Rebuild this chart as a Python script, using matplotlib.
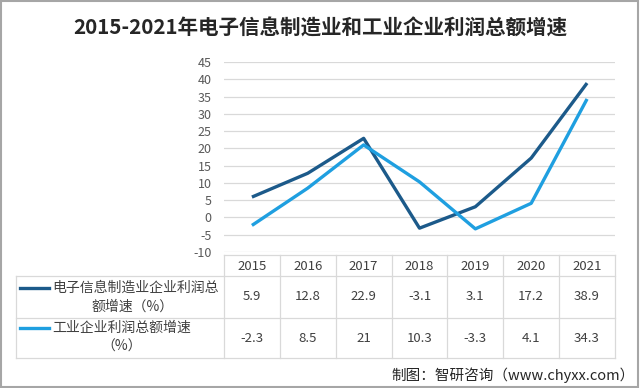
import matplotlib.pyplot as plt
from matplotlib.lines import Line2D
from matplotlib.patches import Rectangle

plt.rcParams['font.family'] = ['Noto Sans CJK SC', 'DejaVu Sans']

years = ['2015', '2016', '2017', '2018', '2019', '2020', '2021']
electronic = [5.9, 12.8, 22.9, -3.1, 3.1, 17.2, 38.9]
industry = [-2.3, 8.5, 21, 10.3, -3.3, 4.1, 34.3]
electronic_label = ['电子信息制造业企业利润总', '额增速（%）']
industry_label = ['工业企业利润总额增速', '（%）']
yticks = list(range(-10, 50, 5))

dark_blue = '#1c5a8a'
light_blue = '#1f9fe0'
grid_col = '#d9d9d9'
text_col = '#404040'

W, H = 640, 388
fig = plt.figure(figsize=(6.4, 3.88), dpi=100)

def fx(px):
    return px / W

def fy(py):
    return 1 - py / H

# plot area: 224..615 px wide, 62 (45) .. 252 (-10) px tall
ax = fig.add_axes([fx(224), fy(252), fx(615) - fx(224), fy(62) - fy(252)])
x = list(range(len(years)))
ax.plot(x, electronic, color=dark_blue, linewidth=2.4, solid_capstyle='butt')
ax.plot(x, industry, color=light_blue, linewidth=2.4, solid_capstyle='butt')
ax.set_xlim(-0.5, len(years) - 0.5)
ax.set_ylim(-10, 45)
ax.set_yticks(yticks)
ax.set_yticklabels([str(v) for v in yticks], fontsize=9, color='#595959')
ax.set_xticks([])
ax.tick_params(axis='y', length=0, pad=9)
ax.grid(axis='y', color=grid_col, linewidth=0.9)
ax.set_axisbelow(True)
for s in ax.spines.values():
    s.set_visible(False)

# title
fig.text(0.5, fy(28), '2015-2021年电子信息制造业和工业企业利润总额增速',
         ha='center', va='center', fontsize=14.8, fontweight='bold', color='#262626')

# data table
col_w = (615 - 224) / len(years)
tbl_lines = [
    ((224, 615), (255, 255)),
    ((16, 615), (276, 276)),
    ((16, 615), (318, 318)),
    ((16, 615), (358, 358)),
    ((16, 16), (276, 358)),
]
for i in range(len(years) + 1):
    xv = 224 + i * col_w
    tbl_lines.append(((xv, xv), (255, 358)))
for (x0, x1), (y0, y1) in tbl_lines:
    fig.add_artist(Line2D([fx(x0), fx(x1)], [fy(y0), fy(y1)], color=grid_col,
                          linewidth=0.9, transform=fig.transFigure))

for i, yr in enumerate(years):
    cx = 224 + (i + 0.5) * col_w
    fig.text(fx(cx), fy(266), yr, ha='center', va='center', fontsize=9.5, color=text_col)
    fig.text(fx(cx), fy(297), f'{electronic[i]:g}', ha='center', va='center',
             fontsize=9.5, color=text_col)
    fig.text(fx(cx), fy(338), f'{industry[i]:g}', ha='center', va='center',
             fontsize=9.5, color=text_col)

# row headers with legend keys
fig.add_artist(Line2D([fx(20), fx(49)], [fy(288), fy(288)], color=dark_blue,
                      linewidth=2.4, transform=fig.transFigure))
fig.text(fx(52), fy(288), electronic_label[0], ha='left', va='center', fontsize=10, color=text_col)
fig.text(fx(133), fy(307), electronic_label[1], ha='center', va='center', fontsize=10, color=text_col)
fig.add_artist(Line2D([fx(20), fx(49)], [fy(328), fy(328)], color=light_blue,
                      linewidth=2.4, transform=fig.transFigure))
fig.text(fx(52), fy(328), industry_label[0], ha='left', va='center', fontsize=10, color=text_col)
fig.text(fx(122), fy(347), industry_label[1], ha='center', va='center', fontsize=10, color=text_col)

# footer
fig.text(fx(635), fy(375), '制图：智研咨询（www.chyxx.com）', ha='right', va='center',
         fontsize=10.5, color='#262626')

# outer frame
fig.add_artist(Rectangle((0.002, 0.003), 0.995, 0.994, transform=fig.transFigure,
                         fill=False, edgecolor='#a6a6a6', linewidth=1.5))

fig.savefig('out.png', dpi=100)
